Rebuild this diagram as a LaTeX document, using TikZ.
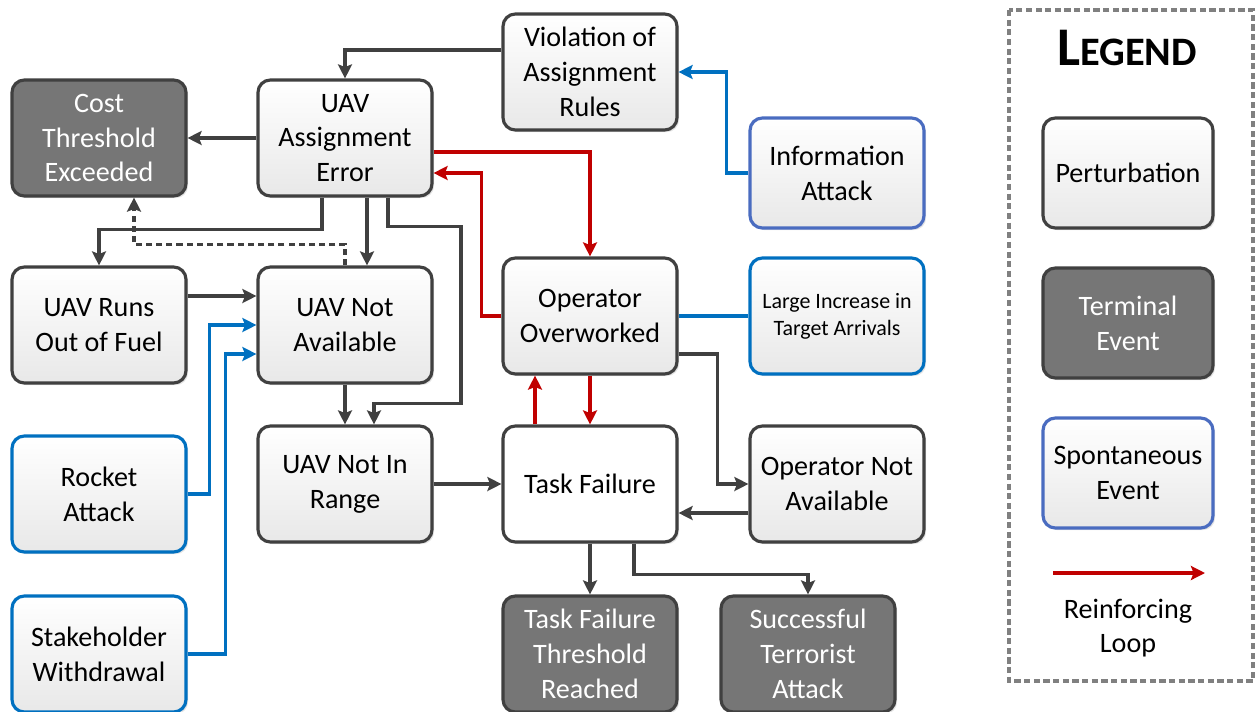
\documentclass[tikz,border=0pt]{standalone}
\usepackage{fontspec}
\setmainfont{Carlito}
\usetikzlibrary{arrows.meta,calc,shadows}
\definecolor{linegray}{HTML}{404040}
\definecolor{termgray}{HTML}{767676}
\definecolor{spblue}{HTML}{0070C0}
\definecolor{legblue}{HTML}{4A6CC0}
\definecolor{loopred}{HTML}{C00000}
\tikzset{
  base/.style={draw=linegray, line width=1.8pt, rounded corners=7pt,
    minimum width=3.48cm, minimum height=2.32cm, inner sep=2pt, align=center,
    font=\fontsize{16}{19.8}\selectfont,
    drop shadow={opacity=0.22, shadow xshift=1.2pt, shadow yshift=-1.2pt}},
  perturb/.style={base, top color=white, bottom color=black!9},
  spont/.style={perturb, draw=spblue},
  terminal/.style={base, fill=termgray, text=white},
  conn/.style={draw=linegray, line width=2pt,
    -{Stealth[length=8pt,width=8pt,inset=1.5pt]}},
  loop/.style={conn, draw=loopred},
  trigger/.style={conn, draw=spblue},
}
\begin{document}
\begin{tikzpicture}[x=0.02cm, y=-0.02cm]
  \useasboundingbox (0,0) rectangle (1255,711);
  % main boxes
  \node[terminal] (cost) at (99,138) {Cost\\Threshold\\Exceeded};
  \node[perturb] (uae) at (345,138) {UAV\\Assignment\\Error};
  \node[perturb] (viol) at (590,72) {Violation of\\Assignment\\Rules};
  \node[spont, draw=legblue, minimum height=2.2cm] (info) at (837,173) {Information\\Attack};
  \node[perturb] (fuel) at (99,325) {UAV Runs\\Out of Fuel};
  \node[perturb] (una) at (345,325) {UAV Not\\Available};
  \node[perturb] (oow) at (590,316) {Operator\\Overworked};
  \node[spont, font=\fontsize{12.5}{15.3}\selectfont] (large) at (837,316) {Large Increase in\\Target Arrivals};
  \node[spont] (rocket) at (99,494) {Rocket\\Attack};
  \node[perturb] (unr) at (345,484) {UAV Not In\\Range};
  \node[base, fill=white] (tf) at (590,484) {Task Failure};
  \node[perturb] (ona) at (837,484) {Operator Not\\Available};
  \node[spont] (stake) at (99,654) {Stakeholder\\Withdrawal};
  \node[terminal] (tft) at (590,654) {Task Failure\\Threshold\\Reached};
  \node[terminal] (sta) at (808,654) {Successful\\Terrorist\\Attack};
  % connectors
  \draw[conn] ($(viol.west)+(0,-22)$) -| (uae.north);
  \draw[conn] (uae.west) -- (cost.east);
  \draw[loop] ($(uae.east)+(0,14)$) -| (oow.north);
  \draw[loop] (oow.west) -- ++(-20,0) |- ($(uae.east)+(0,35)$);
  \draw[trigger] (info.west) -- ++(-22,0) |- (viol.east);
  \draw[conn] ($(uae.south)+(-23,0)$) -- ++(0,32) -| (fuel.north);
  \draw[conn] ($(uae.south)+(22,0)$) -- ($(una.north)+(22,0)$);
  \draw[conn] ($(uae.south)+(43,0)$) -- ++(0,29) -- ++(73,0) |- ($(unr.north)+(29,-21)$) -- ($(unr.north)+(29,0)$);
  \draw[conn, dash pattern=on 3.5pt off 2.3pt] (una.north) -- ++(0,-21) -| ($(cost.south)+(35,0)$);
  \draw[conn] ($(fuel.east)+(0,-29)$) -- ($(una.west)+(0,-29)$);
  \draw[trigger] (rocket.east) -- ++(22,0) |- (una.west);
  \draw[trigger] (stake.east) -- ++(38,0) |- ($(una.west)+(0,29)$);
  \draw[conn] (una) -- (unr);
  \draw[conn] (unr) -- (tf);
  \draw[draw=spblue, line width=2pt] (large.west) -- (oow.east);
  \draw[conn] ($(oow.east)+(0,38)$) -- ++(39,0) |- (ona.west);
  \draw[conn] ($(ona.west)+(0,29)$) -- ($(tf.east)+(0,29)$);
  \draw[loop] ($(tf.north)+(-55,0)$) -- ($(oow.south)+(-55,0)$);
  \draw[loop] (oow) -- (tf);
  \draw[conn] (tf) -- (tft);
  \draw[conn] ($(tf.south)+(44,0)$) -- ++(0,31) -| (sta.north);
  % legend
  \draw[gray, line width=1.8pt, dash pattern=on 3.5pt off 2pt] (1009,10) rectangle (1253,681);
  \node[anchor=base, font=\bfseries] (legtitle) at (1127,65) {\fontsize{31}{31}\selectfont L\fontsize{23}{23}\selectfont EGEND};
  \node[perturb, minimum width=3.4cm, minimum height=2.2cm] (legpert) at (1128,173) {Perturbation};
  \node[terminal, minimum width=3.4cm, minimum height=2.2cm] (legterm) at (1128,323) {Terminal\\Event};
  \node[spont, draw=legblue, minimum width=3.4cm, minimum height=2.2cm] (legspont) at (1128,473) {Spontaneous\\Event};
  \coordinate (loopa) at (1053,573);
  \coordinate (loopb) at (1205,573);
  \draw[loop] (loopa) -- (loopb);
  \node[font=\fontsize{16}{19.8}\selectfont, align=center] (looptext) at (1128,628) {Reinforcing\\Loop};
\end{tikzpicture}
\end{document}
